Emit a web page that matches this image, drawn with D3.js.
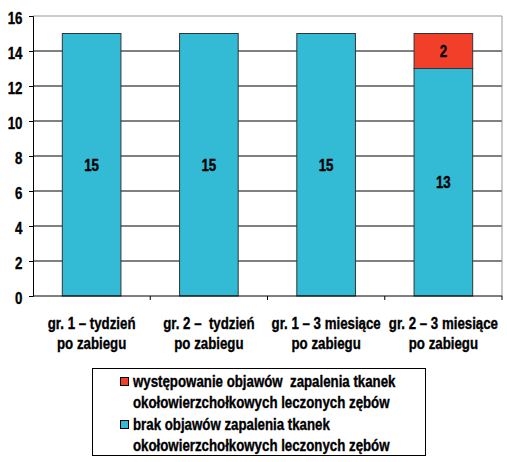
<!DOCTYPE html>
<html><head><meta charset="utf-8">
<script src="https://cdn.jsdelivr.net/npm/d3@7"></script>
<style>
body{margin:0;background:#fff;}
svg text{font-family:'Liberation Sans',Arial,sans-serif;font-weight:bold;fill:#000;stroke:#000;stroke-width:0.35px;}
</style></head>
<body><svg id="c" width="507" height="462"></svg>
<script>
const categories = [["gr. 1 – tydzień","po zabiegu"],["gr. 2 –  tydzień","po zabiegu"],["gr. 1 – 3 miesiące","po zabiegu"],["gr. 2 – 3 miesiące","po zabiegu"]];
const noSymptoms = [15,15,15,13];
const symptoms = [0,0,0,2];
const seriesNames = [["występowanie objawów  zapalenia tkanek","okołowierzchołkowych leczonych zębów"],["brak objawów zapalenia tkanek","okołowierzchołkowych leczonych zębów"]];
const yTicks = [0,2,4,6,8,10,12,14,16];
const colors = {cyan:"#33BAD5", red:"#F23F2A"};

const SX = 0.83; // narrow font emulation
const FS = 16;
const svg = d3.select("#c");
const m = {l:33, r:502, t:16, b:296};
const x = d3.scaleBand().domain(d3.range(categories.length)).range([m.l,m.r]).paddingInner(0).paddingOuter(0);
const y = d3.scaleLinear().domain([0,16]).range([m.b,m.t]);

function ntext(parent, tx, ty, str, anchor){
  return parent.append("text").attr("transform",`translate(${tx},${ty}) scale(${SX},1)`)
    .attr("text-anchor",anchor).attr("font-size",FS).style("white-space","pre").text(str);
}

// gridlines
svg.append("g").selectAll("line").data(yTicks.filter(d=>d>0 && d<16)).join("line")
  .attr("x1",m.l).attr("x2",m.r).attr("y1",d=>y(d)).attr("y2",d=>y(d))
  .attr("stroke","#000").attr("stroke-width",1);
svg.append("path").attr("d",`M${m.l},${y(16)}H${m.r}V${m.b}`).attr("fill","none").attr("stroke","#999").attr("stroke-width",1);

const bw = x.bandwidth()*0.5;
const stack = categories.map((c,i)=>({i, a:noSymptoms[i], b:symptoms[i]}));
const g = svg.append("g");
g.selectAll("rect.cy").data(stack).join("rect")
  .attr("x",d=>x(d.i)+x.bandwidth()/2-bw/2).attr("width",bw)
  .attr("y",d=>y(d.a)).attr("height",d=>y(0)-y(d.a))
  .attr("fill",colors.cyan).attr("stroke","#333").attr("stroke-width",1);
g.selectAll("rect.rd").data(stack.filter(d=>d.b>0)).join("rect")
  .attr("x",d=>x(d.i)+x.bandwidth()/2-bw/2).attr("width",bw)
  .attr("y",d=>y(d.a+d.b)).attr("height",d=>y(d.a)-y(d.a+d.b))
  .attr("fill",colors.red).attr("stroke","#333").attr("stroke-width",1);
stack.forEach(d=>{
  const cx = x(d.i)+x.bandwidth()/2;
  ntext(g, cx, (y(d.a)+y(0))/2+6, String(d.a), "middle");
  if(d.b>0) ntext(g, cx, (y(d.a)+y(d.a+d.b))/2+6, String(d.b), "middle");
});

// y axis
const ya = svg.append("g").attr("transform",`translate(${m.l},0)`)
  .call(d3.axisLeft(y).tickValues(yTicks).tickSize(4).tickPadding(7));
ya.select(".domain").attr("stroke","#000");
ya.selectAll(".tick line").attr("stroke","#000");
ya.selectAll(".tick text").attr("font-size",FS).attr("font-family",null)
  .attr("x",-10.5/SX).attr("transform",`scale(${SX},1)`).attr("dy","0.47em");

// x axis
svg.append("line").attr("x1",m.l).attr("x2",m.r).attr("y1",m.b).attr("y2",m.b).attr("stroke","#000");
svg.append("g").selectAll("line").data(d3.range(1,categories.length+1)).join("line")
  .attr("x1",d=>m.l+d*x.step()).attr("x2",d=>m.l+d*x.step())
  .attr("y1",m.b).attr("y2",m.b+4).attr("stroke","#000");
const xg = svg.append("g");
categories.forEach((c,i)=>{
  const cx = x(i)+x.bandwidth()/2;
  ntext(xg, cx, 329, c[0], "middle");
  ntext(xg, cx, 349, c[1], "middle");
});

// legend
const lg = svg.append("g");
lg.append("rect").attr("x",92.5).attr("y",368.5).attr("width",333).attr("height",87)
  .attr("fill","#fff").attr("stroke","#000").attr("stroke-width",1);
const lc = [colors.red, colors.cyan];
seriesNames.forEach((s,i)=>{
  const oy = i*43;
  lg.append("rect").attr("x",120.5).attr("y",377.5+oy).attr("width",8).attr("height",8)
    .attr("fill",lc[i]).attr("stroke","#000").attr("stroke-width",1);
  ntext(lg, 133, 387+oy, s[0], "start");
  ntext(lg, 133, 408+oy, s[1], "start");
});
</script></body></html>
